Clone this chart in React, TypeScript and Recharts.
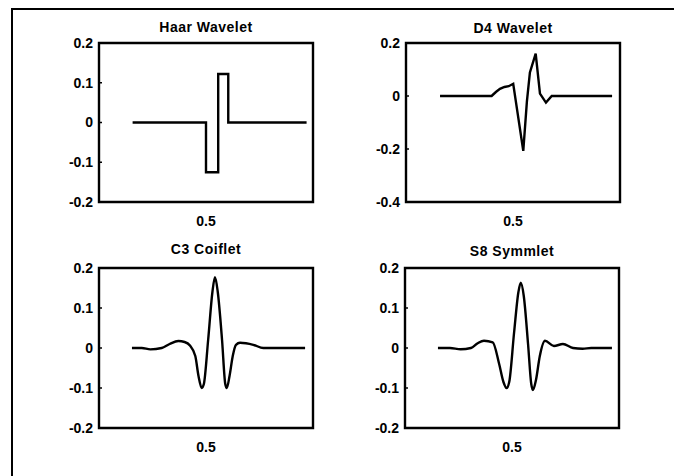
import { LineChart, Line, XAxis, YAxis, ReferenceArea } from 'recharts';

// x positions run from 0 to 1 across each axes box
const haarX = [0.157, 0.5, 0.5, 0.557, 0.557, 0.604, 0.604, 0.97];
const haarY = [0, 0, -0.125, -0.125, 0.122, 0.122, 0, 0];

const d4X = [0.159, 0.4, 0.42, 0.439, 0.46, 0.48, 0.501, 0.548, 0.565, 0.579, 0.606, 0.626, 0.654, 0.681, 0.963];
const d4Y = [0, 0, 0.015, 0.027, 0.034, 0.037, 0.046, -0.207, -0.02, 0.089, 0.16, 0.009, -0.025, 0, 0];

const c3X = [0.154, 0.2, 0.24, 0.293, 0.33, 0.371, 0.4, 0.425, 0.45, 0.465, 0.48, 0.49, 0.51, 0.53, 0.542, 0.555, 0.575, 0.59, 0.597, 0.61, 0.625, 0.64, 0.659, 0.721, 0.768, 0.963];
const c3Y = [0, 0, -0.0035, 0, 0.01, 0.0175, 0.015, 0.006, -0.02, -0.07, -0.1, -0.09, 0.02, 0.14, 0.177, 0.14, 0.02, -0.09, -0.1, -0.07, -0.02, 0.008, 0.013, 0.008, 0, 0];

const s8X = [0.154, 0.21, 0.26, 0.308, 0.34, 0.369, 0.41, 0.44, 0.46, 0.475, 0.487, 0.51, 0.53, 0.541, 0.555, 0.575, 0.59, 0.598, 0.612, 0.63, 0.654, 0.696, 0.738, 0.785, 0.83, 0.87, 0.967];
const s8Y = [0, 0, -0.003, 0, 0.012, 0.018, 0.014, -0.04, -0.085, -0.1, -0.085, 0.04, 0.14, 0.163, 0.13, 0.01, -0.09, -0.105, -0.08, -0.02, 0.018, 0.005, 0.01, 0, -0.002, 0, 0];

const ticksA = [-0.2, -0.1, 0, 0.1, 0.2];
const ticksD4 = [-0.4, -0.2, 0, 0.2];
const xTicks = [0.5];

const font = '"Liberation Sans", Arial, sans-serif';
const tickStyle = { fill: '#000', fontSize: 14, fontWeight: 700, fontFamily: font };

function toRows(xs: number[], ys: number[]) {
  return xs.map((x, i) => ({ x, y: ys[i] }));
}

interface PanelProps {
  title: string;
  xs: number[];
  ys: number[];
  yTicks: number[];
  curve: 'linear' | 'monotone';
  left: number;
  top: number;
  width: number;
  height: number;
  yAxisWidth: number;
  margin: { top: number; right: number; bottom: number; left: number };
  titleTop: number;
}

function Panel({ title, xs, ys, yTicks, curve, left, top, width, height, yAxisWidth, margin, titleTop }: PanelProps) {
  const yMin = yTicks[0];
  const yMax = yTicks[yTicks.length - 1];
  const plotLeft = left + margin.left + yAxisWidth;
  const plotWidth = width - margin.left - margin.right - yAxisWidth;
  return (
    <>
      <div
        style={{
          position: 'absolute',
          left: plotLeft,
          top: titleTop,
          width: plotWidth,
          textAlign: 'center',
          fontFamily: font,
          fontWeight: 700,
          fontSize: 14,
          letterSpacing: 0.5,
          lineHeight: '16px',
        }}
      >
        {title}
      </div>
      <div style={{ position: 'absolute', left, top }}>
        <LineChart width={width} height={height} data={toRows(xs, ys)} margin={margin}>
          <XAxis
            dataKey="x"
            type="number"
            domain={[0, 1]}
            ticks={xTicks}
            axisLine={false}
            tickLine={false}
            tickSize={0}
            tickMargin={14}
            height={30}
            tick={tickStyle}
          />
          <YAxis
            type="number"
            domain={[yMin, yMax]}
            ticks={yTicks}
            width={yAxisWidth}
            axisLine={false}
            tickLine={{ stroke: '#000', strokeWidth: 1.5 }}
            tickSize={-3}
            tickMargin={9}
            tick={tickStyle}
          />
          <ReferenceArea
            x1={0}
            x2={1}
            y1={yMin}
            y2={yMax}
            fill="none"
            fillOpacity={0}
            stroke="#000"
            strokeWidth={2.4}
          />
          <Line
            type={curve}
            dataKey="y"
            stroke="#000"
            strokeWidth={2.4}
            dot={false}
            isAnimationActive={false}
          />
        </LineChart>
      </div>
    </>
  );
}

export default function App() {
  return (
    <div style={{ position: 'fixed', left: 0, top: 0, width: 674, height: 476, background: '#fff' }}>
      <div
        style={{
          position: 'absolute',
          left: 11,
          top: 8,
          width: 663,
          height: 468,
          borderTop: '2px solid #000',
          borderLeft: '2px solid #000',
        }}
      />
      <Panel
        title="Haar Wavelet"
        xs={haarX}
        ys={haarY}
        yTicks={ticksA}
        curve="linear"
        left={0}
        top={0}
        width={337}
        height={236}
        yAxisWidth={99}
        margin={{ top: 43, right: 24, bottom: 4, left: 0 }}
        titleTop={19}
      />
      <Panel
        title="D4 Wavelet"
        xs={d4X}
        ys={d4Y}
        yTicks={ticksD4}
        curve="linear"
        left={337}
        top={0}
        width={337}
        height={236}
        yAxisWidth={69}
        margin={{ top: 43, right: 54, bottom: 4, left: 0 }}
        titleTop={20}
      />
      <Panel
        title="C3 Coiflet"
        xs={c3X}
        ys={c3Y}
        yTicks={ticksA}
        curve="monotone"
        left={0}
        top={236}
        width={337}
        height={240}
        yAxisWidth={99}
        margin={{ top: 32, right: 24, bottom: 18, left: 0 }}
        titleTop={241}
      />
      <Panel
        title="S8 Symmlet"
        xs={s8X}
        ys={s8Y}
        yTicks={ticksA}
        curve="monotone"
        left={337}
        top={236}
        width={337}
        height={240}
        yAxisWidth={68}
        margin={{ top: 32, right: 55, bottom: 18, left: 0 }}
        titleTop={243}
      />
    </div>
  );
}
